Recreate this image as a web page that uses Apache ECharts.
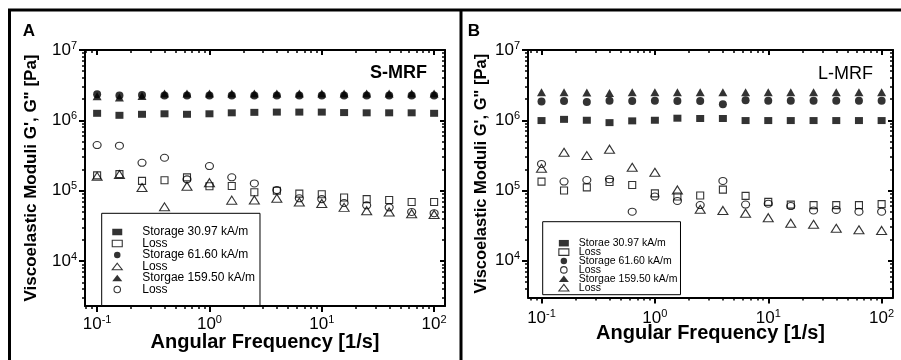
<!DOCTYPE html>
<html>
<head>
<meta charset="utf-8">
<script src="https://cdn.jsdelivr.net/npm/echarts@6/dist/echarts.min.js"></script>
<style>
  html, body { margin: 0; padding: 0; background: #fff; }
  #chart { width: 901px; height: 360px; }
</style>
</head>
<body>
<div id="chart"></div>
<script>
// angular frequency [1/s], 5 points per decade
const freq = [0.1, 0.158, 0.251, 0.398, 0.631, 1, 1.58, 2.51, 3.98, 6.31, 10, 15.8, 25.1, 39.8, 63.1, 100];

// panel A  (S-MRF)
const aStorage31 = [1.26e6, 1.18e6, 1.22e6, 1.24e6, 1.22e6, 1.24e6, 1.28e6, 1.30e6, 1.31e6, 1.31e6, 1.31e6, 1.29e6, 1.28e6, 1.28e6, 1.28e6, 1.26e6];
const aLoss31 = [1.65e5, 1.72e5, 1.38e5, 1.41e5, 1.55e5, 1.16e5, 1.17e5, 9.5e4, 1.0e5, 9.1e4, 8.9e4, 8.0e4, 7.6e4, 7.4e4, 6.9e4, 6.9e4];
const aStorage62 = [2.35e6, 2.25e6, 2.3e6, 2.25e6, 2.25e6, 2.25e6, 2.25e6, 2.25e6, 2.25e6, 2.25e6, 2.25e6, 2.25e6, 2.25e6, 2.25e6, 2.25e6, 2.25e6];
const aLoss62 = [1.6e5, 1.7e5, 1.11e5, 5.9e4, 1.16e5, 1.3e5, 7.35e4, 7.4e4, 7.8e4, 6.9e4, 6.6e4, 5.8e4, 5.2e4, 5.0e4, 4.7e4, 4.6e4];
const aStorage160 = [2.2e6, 2.12e6, 2.22e6, 2.4e6, 2.4e6, 2.4e6, 2.4e6, 2.4e6, 2.4e6, 2.4e6, 2.4e6, 2.4e6, 2.4e6, 2.4e6, 2.4e6, 2.4e6];
const aLoss160 = [4.45e5, 4.37e5, 2.49e5, 2.94e5, 1.45e5, 2.24e5, 1.55e5, 1.27e5, 1.02e5, 7.8e4, 7.6e4, 6.7e4, 6.2e4, 5.8e4, 5.0e4, 4.8e4];

// panel B  (L-MRF)
const bStorage31 = [0.99e6, 1.03e6, 1.0e6, 0.925e6, 0.98e6, 1.0e6, 1.07e6, 1.06e6, 1.06e6, 0.99e6, 0.99e6, 0.99e6, 0.99e6, 0.99e6, 0.99e6, 0.99e6];
const bLoss31 = [1.34e5, 1.0e5, 1.11e5, 1.32e5, 1.2e5, 9.1e4, 8.2e4, 8.5e4, 1.03e5, 8.4e4, 6.9e4, 6.3e4, 6.2e4, 6.2e4, 6.2e4, 6.4e4];
const bStorage62 = [1.85e6, 1.88e6, 1.82e6, 1.9e6, 1.88e6, 1.9e6, 1.88e6, 1.88e6, 1.69e6, 1.92e6, 1.9e6, 1.9e6, 1.9e6, 1.9e6, 1.9e6, 1.9e6];
const bLoss62 = [2.39e5, 1.34e5, 1.41e5, 1.45e5, 5.0e4, 8.2e4, 7.1e4, 6.2e4, 1.37e5, 6.3e4, 6.5e4, 6.0e4, 5.2e4, 5.3e4, 5.0e4, 5.0e4];
const bStorage160 = [2.5e6, 2.5e6, 2.48e6, 2.45e6, 2.5e6, 2.5e6, 2.5e6, 2.5e6, 2.5e6, 2.5e6, 2.5e6, 2.5e6, 2.5e6, 2.5e6, 2.5e6, 2.5e6];
const bLoss160 = [2.07e5, 3.5e5, 3.14e5, 3.87e5, 2.14e5, 1.82e5, 1.02e5, 5.4e4, 5.2e4, 4.75e4, 4.1e4, 3.43e4, 3.3e4, 2.9e4, 2.76e4, 2.7e4];

// legend texts (trailing spaces keep names unique, trimmed for display)
const namesA = ['Storage 30.97 kA/m', 'Loss', 'Storage 61.60 kA/m', 'Loss ', 'Storgae 159.50 kA/m', 'Loss  '];
const namesB = ['Storae 30.97 kA/m', 'Loss   ', 'Storage 61.60 kA/m ', 'Loss    ', 'Storgae 159.50 kA/m ', 'Loss     '];

const FONT = '"Liberation Sans", Arial, Helvetica, sans-serif';
const chart = echarts.init(document.getElementById('chart'));

function decadeLabel(v) {
  const e = Math.log10(v);
  const r = Math.round(e);
  if (Math.abs(e - r) > 1e-6) return '';
  return '{b|10}{s|' + r + '}';
}
const labelRich = {
  b: { fontSize: 17, lineHeight: 20, fontFamily: FONT, color: '#000', verticalAlign: 'middle' },
  s: { fontSize: 11, lineHeight: 11, fontFamily: FONT, color: '#000', verticalAlign: 'top' }
};

function majorVals(lo, hi) {
  const out = [];
  for (let e = Math.floor(Math.log10(lo)); e <= Math.ceil(Math.log10(hi)); e++) {
    const v = Math.pow(10, e);
    if (v >= lo * 0.999 && v <= hi * 1.001) out.push(v);
  }
  return out;
}
function minorVals(lo, hi) {
  const out = [];
  for (let e = Math.floor(Math.log10(lo)); e <= Math.ceil(Math.log10(hi)); e++) {
    for (let k = 2; k <= 9; k++) {
      const v = k * Math.pow(10, e);
      if (v > lo && v < hi) out.push(v);
    }
  }
  return out;
}

function axisSet(dim, gi, lo, hi, cfg) {
  const majors = majorVals(lo, hi);
  const minors = minorVals(lo, hi);
  const first = dim === 'x' ? 'bottom' : 'left';
  const second = dim === 'x' ? 'top' : 'right';
  const base = { gridIndex: gi, type: 'log', min: lo, max: hi, splitLine: { show: false }, minorTick: { show: false } };
  const line = { show: true, lineStyle: { color: '#000', width: 2 } };
  return [
    Object.assign({}, base, {
      position: first,
      axisLine: line,
      axisTick: { show: true, customValues: majors, inside: false, length: 6, lineStyle: { color: '#000', width: 2 } },
      axisLabel: { show: true, customValues: majors, formatter: decadeLabel, rich: labelRich, margin: cfg.margin },
      name: cfg.name, nameLocation: 'middle', nameGap: cfg.nameGap, nameMoveOverlap: false,
      nameTextStyle: { fontFamily: FONT, fontWeight: 'bold', fontSize: cfg.nameSize, color: '#000' }
    }),
    Object.assign({}, base, {
      position: first,
      axisLine: { show: false },
      axisTick: { show: true, customValues: minors, inside: false, length: 3, lineStyle: { color: '#000', width: 1.5 } },
      axisLabel: { show: false }
    }),
    Object.assign({}, base, {
      position: second,
      axisLine: line,
      axisTick: { show: true, customValues: majors, inside: true, length: 5, lineStyle: { color: '#000', width: 2 } },
      axisLabel: { show: false }
    }),
    Object.assign({}, base, {
      position: second,
      axisLine: { show: false },
      axisTick: { show: true, customValues: minors, inside: true, length: 3, lineStyle: { color: '#000', width: 1.5 } },
      axisLabel: { show: false }
    })
  ];
}

const filled = { color: '#000', borderWidth: 0 };
const hollow = { color: 'transparent', borderColor: '#000', borderWidth: 1.1 };

function sc(name, gi, vals, symbol, size, style) {
  return {
    name: name, type: 'scatter', xAxisIndex: gi * 4, yAxisIndex: gi * 4,
    symbol: symbol, symbolSize: size, itemStyle: style,
    emphasis: { disabled: true }, silent: true,
    data: freq.map((f, i) => [f, vals[i]])
  };
}

const seriesA = [
  sc(namesA[0], 0, aStorage31, 'rect', [8, 7], filled),
  sc(namesA[1], 0, aLoss31, 'rect', [7, 7], hollow),
  sc(namesA[2], 0, aStorage62, 'circle', [8, 8], filled),
  sc(namesA[3], 0, aLoss62, 'triangle', [10, 8], hollow),
  sc(namesA[4], 0, aStorage160, 'triangle', [9, 8], filled),
  sc(namesA[5], 0, aLoss160, 'circle', [8, 7], hollow)
];
const seriesB = [
  sc(namesB[0], 1, bStorage31, 'rect', [8, 7], filled),
  sc(namesB[1], 1, bLoss31, 'rect', [7, 7], hollow),
  sc(namesB[2], 1, bStorage62, 'circle', [8, 8], filled),
  sc(namesB[3], 1, bLoss62, 'circle', [8, 7], hollow),
  sc(namesB[4], 1, bStorage160, 'triangle', [9, 8], filled),
  sc(namesB[5], 1, bLoss160, 'triangle', [10, 8], hollow)
];

function legendData(series) {
  return series.map(s => ({ name: s.name, icon: s.symbol, itemStyle: s.itemStyle }));
}

const yName = 'Viscoelastic Moduli G\', G" [Pa]';
const xName = 'Angular Frequency [1/s]';

const option = {
  animation: false,
  backgroundColor: '#fff',
  grid: [
    { left: 85, top: 50, width: 360, height: 256, outerBoundsMode: 'none', containLabel: false },
    { left: 528, top: 50, width: 365, height: 247.5, outerBoundsMode: 'none', containLabel: false }
  ],
  xAxis: [].concat(
    axisSet('x', 0, 0.078, 125, { margin: 8, name: xName, nameGap: 26, nameSize: 20 }),
    axisSet('x', 1, 0.076, 126, { margin: 10.5, name: xName, nameGap: 26, nameSize: 20 })
  ),
  yAxis: [].concat(
    axisSet('y', 0, 2300, 1e7, { margin: 8, name: yName, nameGap: 45, nameSize: 17 }),
    axisSet('y', 1, 3000, 1e7, { margin: 8, name: yName, nameGap: 38, nameSize: 16.5 })
  ),
  legend: [
    {
      orient: 'vertical', left: 101.7, top: 213.3,
      data: legendData(seriesA), formatter: n => n.trim(), selectedMode: false,
      itemWidth: 10, itemHeight: 6.5, itemGap: -0.5,
      padding: [12.7, 5, 10, 10],
      borderColor: '#000', borderWidth: 1, backgroundColor: '#fff',
      textStyle: { fontSize: 12, fontFamily: FONT, color: '#000', lineHeight: 11.3, padding: [0, 0, 0, 15] }
    },
    {
      orient: 'vertical', left: 542.7, top: 221.7,
      data: legendData(seriesB), formatter: n => n.trim(), selectedMode: false,
      itemWidth: 10, itemHeight: 6.5, itemGap: -2.1,
      padding: [16, 3, 1.5, 15.6],
      borderColor: '#000', borderWidth: 1, backgroundColor: '#fff',
      textStyle: { fontSize: 10.5, fontFamily: FONT, color: '#000', lineHeight: 8.9, padding: [0, 0, 0, 5] }
    }
  ],
  graphic: [
    { type: 'line', shape: { x1: 8, y1: 10, x2: 901, y2: 10 }, style: { stroke: '#000', lineWidth: 3 } },
    { type: 'line', shape: { x1: 9.5, y1: 10, x2: 9.5, y2: 360 }, style: { stroke: '#000', lineWidth: 3 } },
    { type: 'line', shape: { x1: 461, y1: 10, x2: 461, y2: 360 }, style: { stroke: '#000', lineWidth: 3 } },
    { type: 'text', x: 29, y: 31, style: { text: 'A', font: 'bold 17px ' + FONT, fill: '#000', align: 'center', verticalAlign: 'middle' } },
    { type: 'text', x: 474, y: 31, style: { text: 'B', font: 'bold 17px ' + FONT, fill: '#000', align: 'center', verticalAlign: 'middle' } },
    { type: 'text', x: 427, y: 73, style: { text: 'S-MRF', font: 'bold 18px ' + FONT, fill: '#000', align: 'right', verticalAlign: 'middle' } },
    { type: 'text', x: 873, y: 74, style: { text: 'L-MRF', font: '18px ' + FONT, fill: '#000', align: 'right', verticalAlign: 'middle' } }
  ],
  series: seriesA.concat(seriesB)
};

chart.setOption(option);
</script>
</body>
</html>
